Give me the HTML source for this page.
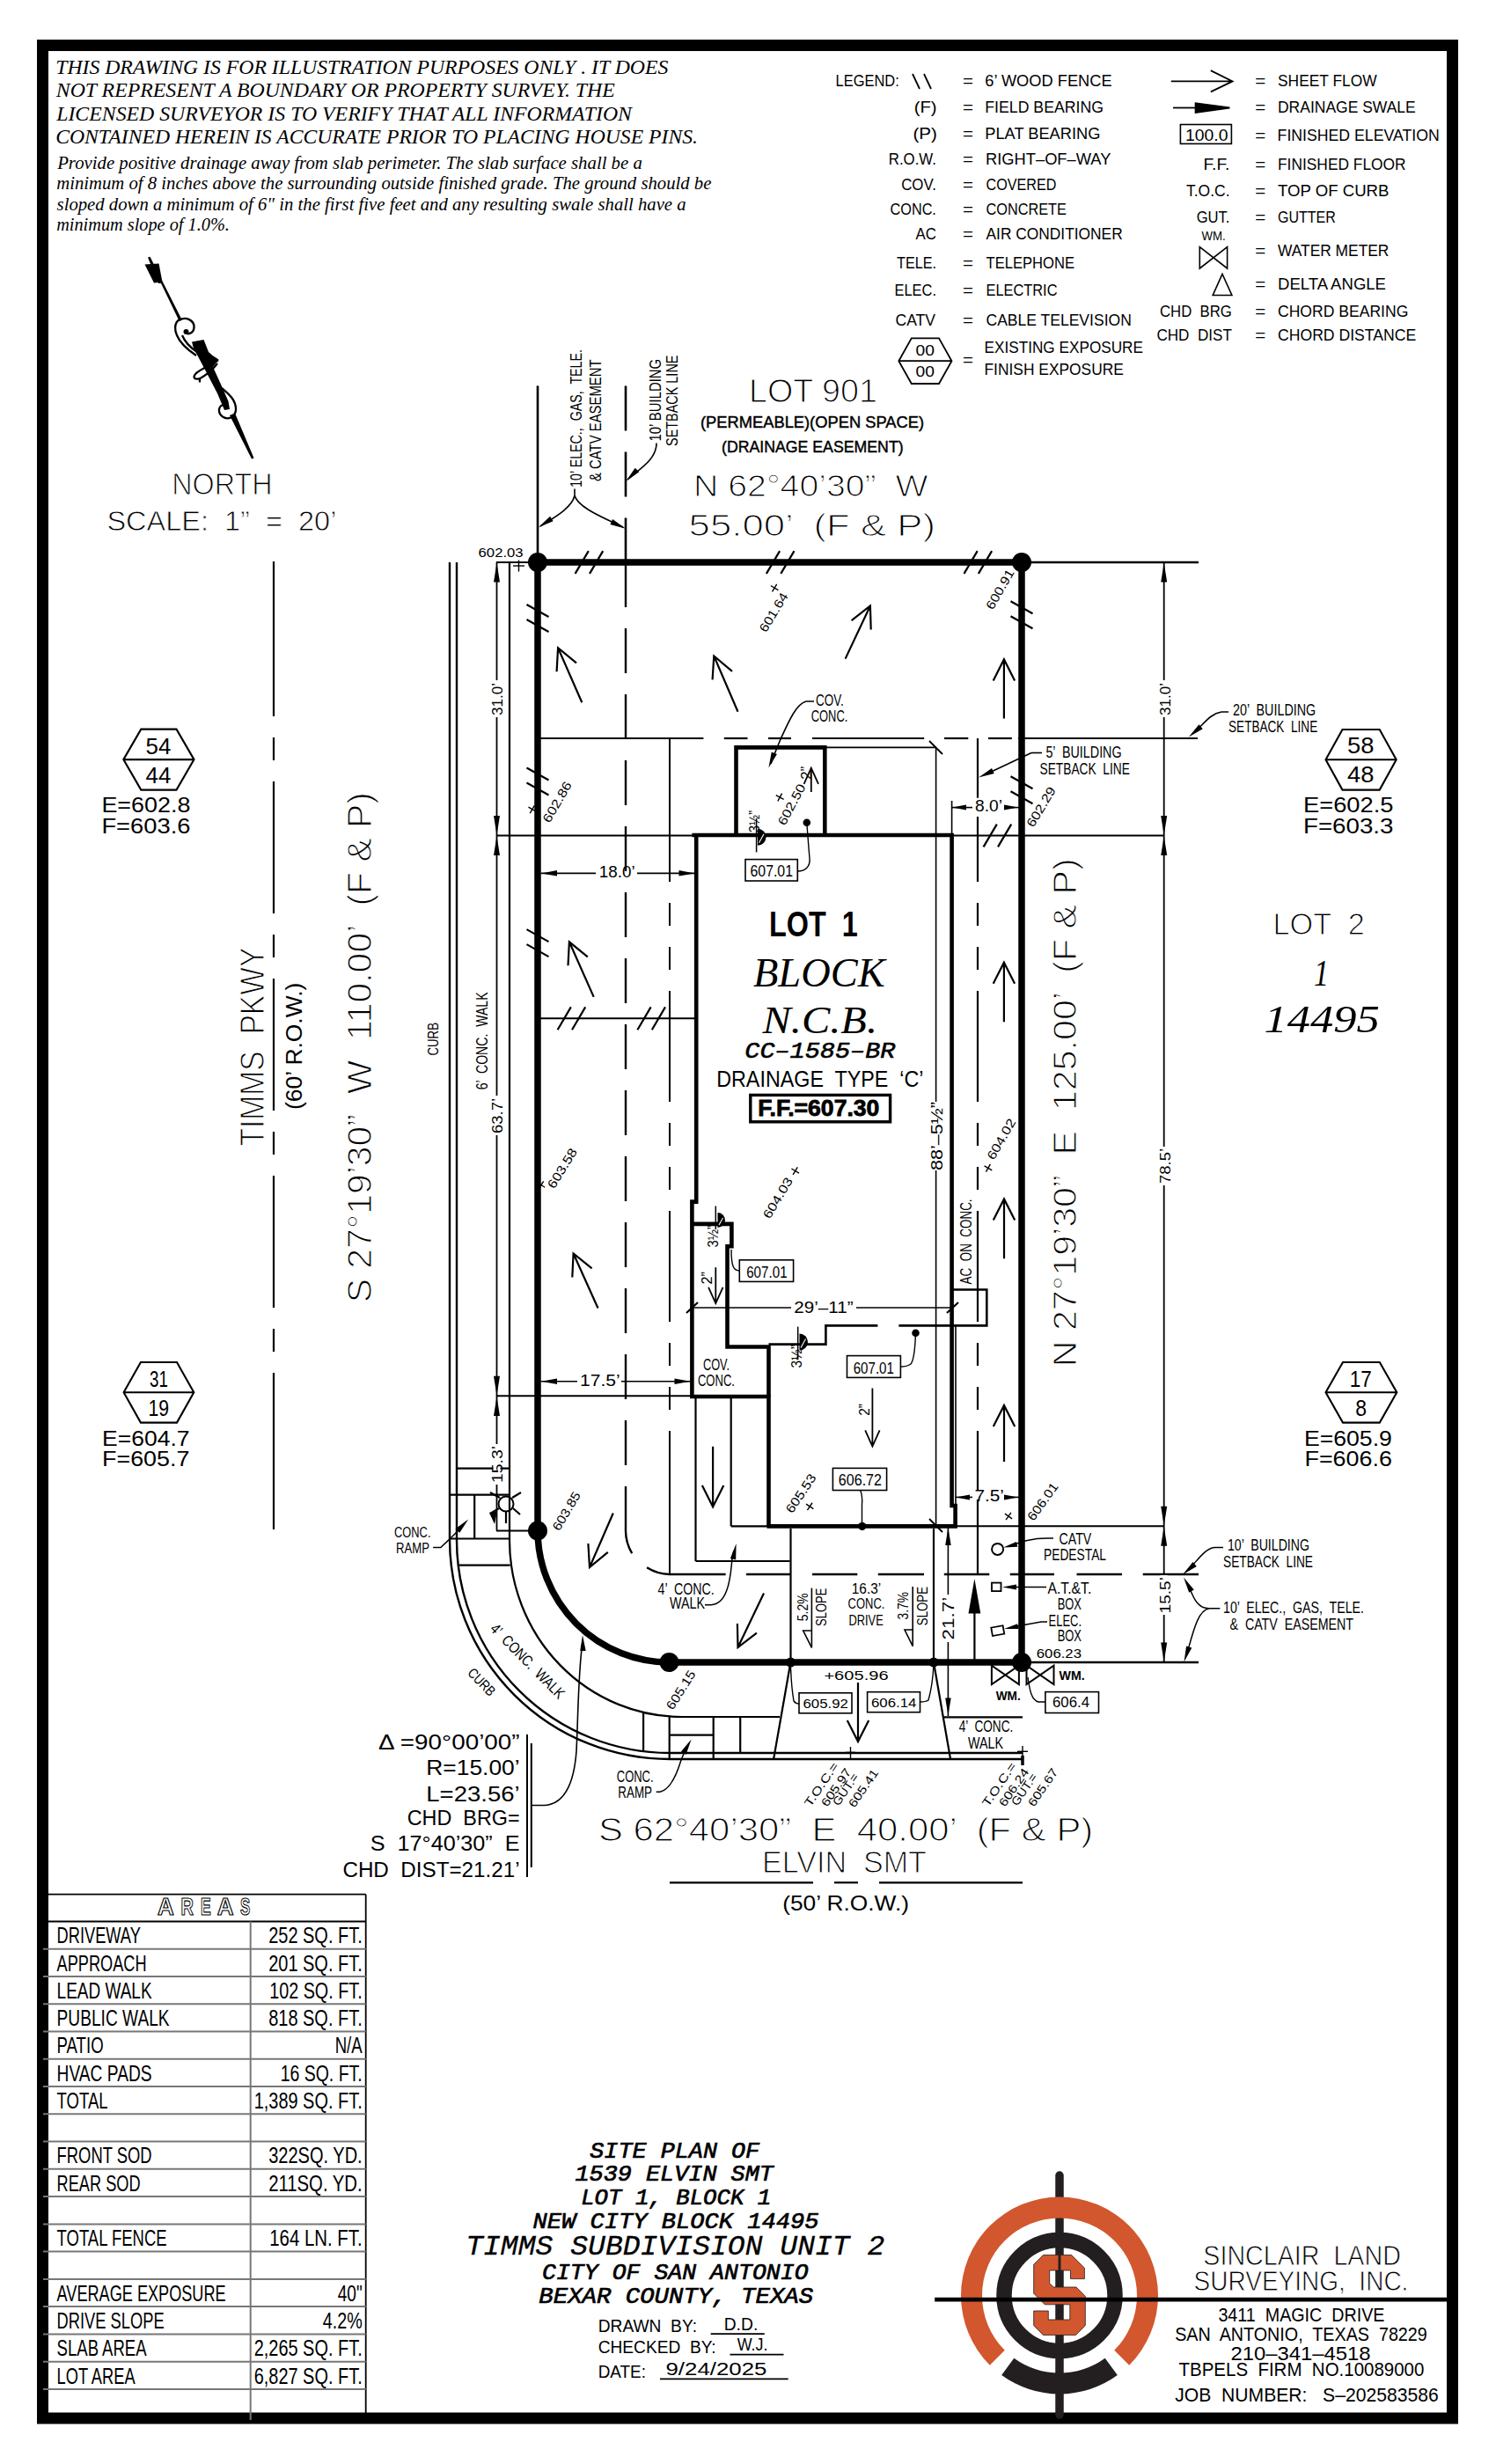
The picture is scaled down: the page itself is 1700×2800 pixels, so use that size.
<!DOCTYPE html>
<html><head><meta charset="utf-8"><title>Site Plan</title>
<style>
html,body{margin:0;padding:0;background:#fff;width:1700px;height:2800px;overflow:hidden}
svg{display:block}
text{font-family:"Liberation Sans", sans-serif;fill:#000;stroke:none;white-space:pre}
</style></head><body>
<svg width="1700" height="2800" viewBox="0 0 1700 2800" stroke="#000" stroke-linecap="butt">
<rect x="0" y="0" width="1700" height="2800" fill="#fff" stroke="none"/>
<g>
<rect x="48.5" y="51.5" width="1602" height="2696.5" fill="none" stroke-width="13"/>
<text x="63.2" y="83.8" font-size="23.82" textLength="696.1" lengthAdjust="spacingAndGlyphs" font-style="italic" style='font-family:"Liberation Serif", serif;'>THIS DRAWING IS FOR ILLUSTRATION PURPOSES ONLY . IT DOES</text>
<text x="63.8" y="110.3" font-size="23.82" textLength="635.0" lengthAdjust="spacingAndGlyphs" font-style="italic" style='font-family:"Liberation Serif", serif;'>NOT REPRESENT A BOUNDARY OR PROPERTY SURVEY. THE</text>
<text x="64.2" y="136.8" font-size="23.82" textLength="653.8" lengthAdjust="spacingAndGlyphs" font-style="italic" style='font-family:"Liberation Serif", serif;'>LICENSED SURVEYOR IS TO VERIFY THAT ALL INFORMATION</text>
<text x="63.2" y="163.3" font-size="23.82" textLength="729.8" lengthAdjust="spacingAndGlyphs" font-style="italic" style='font-family:"Liberation Serif", serif;'>CONTAINED HEREIN IS ACCURATE PRIOR TO PLACING HOUSE PINS.</text>
<text x="65.2" y="192.1" font-size="20.15" textLength="664.6" lengthAdjust="spacingAndGlyphs" font-style="italic" style='font-family:"Liberation Serif", serif;'>Provide positive drainage away from slab perimeter. The slab surface shall be a</text>
<text x="64.2" y="215.0" font-size="20.15" textLength="744.2" lengthAdjust="spacingAndGlyphs" font-style="italic" style='font-family:"Liberation Serif", serif;'>minimum of 8 inches above the surrounding outside finished grade. The ground should be</text>
<text x="64.6" y="238.6" font-size="20.15" textLength="715.0" lengthAdjust="spacingAndGlyphs" font-style="italic" style='font-family:"Liberation Serif", serif;'>sloped down a minimum of 6" in the first five feet and any resulting swale shall have a</text>
<text x="64.2" y="261.7" font-size="20.15" textLength="196.7" lengthAdjust="spacingAndGlyphs" font-style="italic" style='font-family:"Liberation Serif", serif;'>minimum slope of 1.0%.</text>
<text x="949.6" y="98.2" font-size="18.60" textLength="72.2" lengthAdjust="spacingAndGlyphs">LEGEND:</text>
<text x="1094.0" y="98.2" font-size="18.60" textLength="12.0" lengthAdjust="spacingAndGlyphs">=</text>
<text x="1119.3" y="98.2" font-size="18.60" textLength="144.3" lengthAdjust="spacingAndGlyphs">6’ WOOD FENCE</text>
<text x="1038.7" y="127.7" font-size="18.60" textLength="25.9" lengthAdjust="spacingAndGlyphs">(F)</text>
<text x="1094.0" y="127.7" font-size="18.60" textLength="12.0" lengthAdjust="spacingAndGlyphs">=</text>
<text x="1119.3" y="127.7" font-size="18.60" textLength="134.7" lengthAdjust="spacingAndGlyphs">FIELD BEARING</text>
<text x="1037.5" y="157.8" font-size="18.60" textLength="27.5" lengthAdjust="spacingAndGlyphs">(P)</text>
<text x="1094.0" y="157.8" font-size="18.60" textLength="12.0" lengthAdjust="spacingAndGlyphs">=</text>
<text x="1119.3" y="157.8" font-size="18.60" textLength="131.1" lengthAdjust="spacingAndGlyphs">PLAT BEARING</text>
<text x="1009.8" y="187.4" font-size="18.60" textLength="54.1" lengthAdjust="spacingAndGlyphs">R.O.W.</text>
<text x="1094.0" y="187.4" font-size="18.60" textLength="12.0" lengthAdjust="spacingAndGlyphs">=</text>
<text x="1120.0" y="187.4" font-size="18.60" textLength="142.4" lengthAdjust="spacingAndGlyphs">RIGHT–OF–WAY</text>
<text x="1024.2" y="215.6" font-size="18.60" textLength="39.7" lengthAdjust="spacingAndGlyphs">COV.</text>
<text x="1094.0" y="215.6" font-size="18.60" textLength="12.0" lengthAdjust="spacingAndGlyphs">=</text>
<text x="1120.5" y="215.6" font-size="18.60" textLength="79.8" lengthAdjust="spacingAndGlyphs">COVERED</text>
<text x="1011.5" y="243.7" font-size="18.60" textLength="52.4" lengthAdjust="spacingAndGlyphs">CONC.</text>
<text x="1094.0" y="243.7" font-size="18.60" textLength="12.0" lengthAdjust="spacingAndGlyphs">=</text>
<text x="1120.5" y="243.7" font-size="18.60" textLength="91.4" lengthAdjust="spacingAndGlyphs">CONCRETE</text>
<text x="1040.6" y="271.8" font-size="18.60" textLength="23.4" lengthAdjust="spacingAndGlyphs">AC</text>
<text x="1094.0" y="271.8" font-size="18.60" textLength="12.0" lengthAdjust="spacingAndGlyphs">=</text>
<text x="1120.5" y="271.8" font-size="18.60" textLength="155.2" lengthAdjust="spacingAndGlyphs">AIR CONDITIONER</text>
<text x="1019.0" y="304.5" font-size="18.60" textLength="45.0" lengthAdjust="spacingAndGlyphs">TELE.</text>
<text x="1094.0" y="304.5" font-size="18.60" textLength="12.0" lengthAdjust="spacingAndGlyphs">=</text>
<text x="1120.5" y="304.5" font-size="18.60" textLength="100.5" lengthAdjust="spacingAndGlyphs">TELEPHONE</text>
<text x="1016.5" y="335.8" font-size="18.60" textLength="47.5" lengthAdjust="spacingAndGlyphs">ELEC.</text>
<text x="1094.0" y="335.8" font-size="18.60" textLength="12.0" lengthAdjust="spacingAndGlyphs">=</text>
<text x="1120.5" y="335.8" font-size="18.60" textLength="81.0" lengthAdjust="spacingAndGlyphs">ELECTRIC</text>
<text x="1017.5" y="370.4" font-size="18.60" textLength="45.5" lengthAdjust="spacingAndGlyphs">CATV</text>
<text x="1094.0" y="370.4" font-size="18.60" textLength="12.0" lengthAdjust="spacingAndGlyphs">=</text>
<text x="1120.5" y="370.4" font-size="18.60" textLength="165.3" lengthAdjust="spacingAndGlyphs">CABLE TELEVISION</text>
<line x1="1037.0" y1="84.0" x2="1045.0" y2="101.0" stroke-width="1.8"/>
<line x1="1050.0" y1="84.0" x2="1058.0" y2="101.0" stroke-width="1.8"/>
<path d="M1021.3,410.2 L1035.8,384.4 L1067.0,384.4 L1081.5,410.2 L1067.0,436 L1035.8,436 Z M1021.3,410.2 L1081.5,410.2" fill="none" stroke-width="1.8"/>
<text x="1040.6" y="404.3" font-size="16.72" textLength="21.4" lengthAdjust="spacingAndGlyphs">00</text>
<text x="1040.6" y="428.4" font-size="16.72" textLength="21.4" lengthAdjust="spacingAndGlyphs">00</text>
<text x="1094.0" y="414.5" font-size="18.60" textLength="12.0" lengthAdjust="spacingAndGlyphs">=</text>
<text x="1118.5" y="400.7" font-size="18.60" textLength="180.5" lengthAdjust="spacingAndGlyphs">EXISTING EXPOSURE</text>
<text x="1118.5" y="426.0" font-size="18.60" textLength="158.4" lengthAdjust="spacingAndGlyphs">FINISH EXPOSURE</text>
<text x="1426.3" y="97.7" font-size="18.60" textLength="12.0" lengthAdjust="spacingAndGlyphs">=</text>
<text x="1452.0" y="97.7" font-size="18.60" textLength="112.7" lengthAdjust="spacingAndGlyphs">SHEET FLOW</text>
<text x="1426.3" y="127.7" font-size="18.60" textLength="12.0" lengthAdjust="spacingAndGlyphs">=</text>
<text x="1452.0" y="127.7" font-size="18.60" textLength="156.7" lengthAdjust="spacingAndGlyphs">DRAINAGE SWALE</text>
<text x="1426.3" y="159.5" font-size="18.60" textLength="12.0" lengthAdjust="spacingAndGlyphs">=</text>
<text x="1451.6" y="159.5" font-size="18.60" textLength="184.1" lengthAdjust="spacingAndGlyphs">FINISHED ELEVATION</text>
<text x="1426.3" y="192.7" font-size="18.60" textLength="12.0" lengthAdjust="spacingAndGlyphs">=</text>
<text x="1452.0" y="192.7" font-size="18.60" textLength="145.6" lengthAdjust="spacingAndGlyphs">FINISHED FLOOR</text>
<text x="1426.3" y="223.3" font-size="18.60" textLength="12.0" lengthAdjust="spacingAndGlyphs">=</text>
<text x="1452.0" y="223.3" font-size="18.60" textLength="126.4" lengthAdjust="spacingAndGlyphs">TOP OF CURB</text>
<text x="1426.3" y="252.5" font-size="18.60" textLength="12.0" lengthAdjust="spacingAndGlyphs">=</text>
<text x="1452.0" y="252.5" font-size="18.60" textLength="65.8" lengthAdjust="spacingAndGlyphs">GUTTER</text>
<text x="1426.3" y="290.5" font-size="18.60" textLength="12.0" lengthAdjust="spacingAndGlyphs">=</text>
<text x="1452.0" y="290.5" font-size="18.60" textLength="126.4" lengthAdjust="spacingAndGlyphs">WATER METER</text>
<text x="1426.3" y="328.8" font-size="18.60" textLength="12.0" lengthAdjust="spacingAndGlyphs">=</text>
<text x="1452.0" y="328.8" font-size="18.60" textLength="123.0" lengthAdjust="spacingAndGlyphs">DELTA ANGLE</text>
<text x="1426.3" y="359.6" font-size="18.60" textLength="12.0" lengthAdjust="spacingAndGlyphs">=</text>
<text x="1452.0" y="359.6" font-size="18.60" textLength="148.3" lengthAdjust="spacingAndGlyphs">CHORD BEARING</text>
<text x="1426.3" y="387.2" font-size="18.60" textLength="12.0" lengthAdjust="spacingAndGlyphs">=</text>
<text x="1452.0" y="387.2" font-size="18.60" textLength="157.2" lengthAdjust="spacingAndGlyphs">CHORD DISTANCE</text>
<path d="M1330.8,92.4 L1400.6,92.4 M1375.8,80.1 L1400.6,92.4 L1375.8,104.4" stroke-width="1.8" fill="none"/>
<line x1="1333.0" y1="122.5" x2="1358.0" y2="122.5" stroke-width="1.8"/>
<path d="M1357.7,116.2 L1397.5,121.6 L1397.5,123.4 L1357.7,129 Z" fill="#000" stroke="none"/>
<rect x="1341.4" y="141.5" width="58" height="21.9" fill="none" stroke-width="1.6"/>
<text x="1347.0" y="159.5" font-size="18.17" textLength="48.5" lengthAdjust="spacingAndGlyphs">100.0</text>
<text x="1367.4" y="192.7" font-size="18.60" textLength="30.1" lengthAdjust="spacingAndGlyphs">F.F.</text>
<text x="1348.0" y="223.3" font-size="18.60" textLength="49.5" lengthAdjust="spacingAndGlyphs">T.O.C.</text>
<text x="1359.7" y="252.5" font-size="18.60" textLength="37.8" lengthAdjust="spacingAndGlyphs">GUT.</text>
<text x="1365.4" y="273.4" font-size="14.53" textLength="27.2" lengthAdjust="spacingAndGlyphs">WM.</text>
<path d="M1363.3,280.6 L1363.3,305 L1394.6,280.6 L1394.6,305 Z" stroke-width="1.6" fill="none"/>
<path d="M1389,311.4 L1378.2,335.5 L1399.9,335.5 Z" stroke-width="1.6" fill="none"/>
<text x="1318.0" y="359.6" font-size="18.60" textLength="81.9" lengthAdjust="spacingAndGlyphs">CHD  BRG</text>
<text x="1314.4" y="387.2" font-size="18.60" textLength="85.5" lengthAdjust="spacingAndGlyphs">CHD  DIST</text>
<g stroke-linejoin="round">
<path d="M168,292.5 L170.5,291.8 L206,362 L203,363.5 L183,322 L180,322 Z" fill="#000" stroke="none"/>
<path d="M164.5,300.5 L172,300 L180.5,299.5 L184.5,320.5 L175,321.5 Z" fill="#000" stroke="none"/>
<path d="M204,363 C197,367 199,377 201,381 C205,391 214,398 223,404 M207,381 C209,386 215,394 224,400" stroke-width="2.3" fill="none"/>
<path d="M203.5,364 C211,359 221,364 220.5,372 C220,379 213,381 211,377" stroke-width="2.4" fill="none"/>
<circle cx="211.5" cy="377" r="3" fill="#000" stroke="none"/>
<path d="M218,388.5 L231.5,386 L237,400 L241.5,404 L248.5,408.5 L242,417 L252,439 L259.5,456 L261,465 L255,466 L247,447 L235,424 L225,405 L220,396 Z" fill="#000" stroke="none"/>
<path d="M248,409 C240,415 229,419 223,424 C219,428 220,431.5 225.5,430.5 C231,429 242,420 247,413" stroke-width="2.3" fill="none"/>
<line x1="227.0" y1="430.0" x2="227.0" y2="434.5" stroke-width="2.3"/>
<path d="M252,441 C262,449 268.5,456 268,466 C267,474.5 259,477.5 253,473.5 C247.5,469.5 247.5,462 253.5,460" stroke-width="2.3" fill="none"/>
<path d="M261,472 L267,469.5 L288.5,520.5 L286,521.5 Z" fill="#000" stroke="none"/>
</g>
<text x="195.2" y="562.4" font-size="35.76" textLength="114.4" lengthAdjust="spacingAndGlyphs" style='stroke:#fff;stroke-width:1.15;'>NORTH</text>
<text x="121.4" y="603.0" font-size="31.10" textLength="261.0" lengthAdjust="spacingAndGlyphs" style='stroke:#fff;stroke-width:0.80;'>SCALE:  1”  =  20’</text>
<line x1="611.0" y1="438.4" x2="611.0" y2="639.0" stroke-width="2.6"/>
<line x1="711.0" y1="438.4" x2="711.0" y2="639.0" stroke-width="2.6" stroke-dasharray="51 24"/>
<line x1="711.0" y1="639.0" x2="711.0" y2="1740.0" stroke-width="2.4" stroke-dasharray="51 24"/>
<path d="M711,1740 A50,50 0 0 0 718.2,1765.1" stroke-width="2.4" fill="none"/>
<path d="M735.1,1781.3 A50,50 0 0 0 761,1789 H824.6" stroke-width="2.4" fill="none"/>
<line x1="848.0" y1="1789.0" x2="898.8" y2="1789.0" stroke-width="2.4"/>
<line x1="923.0" y1="1789.0" x2="974.3" y2="1789.0" stroke-width="2.4"/>
<line x1="997.8" y1="1789.0" x2="1050.0" y2="1789.0" stroke-width="2.4"/>
<line x1="1072.8" y1="1789.0" x2="1124.3" y2="1789.0" stroke-width="2.4"/>
<line x1="1147.8" y1="1789.0" x2="1198.0" y2="1789.0" stroke-width="2.4"/>
<line x1="1223.5" y1="1789.0" x2="1275.0" y2="1789.0" stroke-width="2.4"/>
<line x1="1298.7" y1="1789.0" x2="1362.0" y2="1789.0" stroke-width="2.4"/>
<line x1="611.0" y1="839.0" x2="799.4" y2="839.0" stroke-width="2.2"/>
<line x1="822.8" y1="839.0" x2="849.5" y2="839.0" stroke-width="2.2"/>
<line x1="872.9" y1="839.0" x2="899.0" y2="839.0" stroke-width="2.2"/>
<line x1="923.0" y1="839.0" x2="1050.2" y2="839.0" stroke-width="2.2"/>
<line x1="1073.0" y1="839.0" x2="1100.3" y2="839.0" stroke-width="2.2"/>
<line x1="1123.0" y1="839.0" x2="1149.8" y2="839.0" stroke-width="2.2"/>
<line x1="1157.0" y1="839.0" x2="1361.0" y2="839.0" stroke-width="2.2"/>
<line x1="761.0" y1="839.0" x2="761.0" y2="1002.0" stroke-width="2.0"/>
<line x1="761.0" y1="1026.0" x2="761.0" y2="1052.0" stroke-width="2.0"/>
<line x1="761.0" y1="1076.0" x2="761.0" y2="1102.0" stroke-width="2.0"/>
<line x1="761.0" y1="1126.0" x2="761.0" y2="1252.0" stroke-width="2.0"/>
<line x1="761.0" y1="1276.0" x2="761.0" y2="1302.0" stroke-width="2.0"/>
<line x1="761.0" y1="1326.0" x2="761.0" y2="1352.0" stroke-width="2.0"/>
<line x1="761.0" y1="1376.0" x2="761.0" y2="1502.0" stroke-width="2.0"/>
<line x1="761.0" y1="1526.0" x2="761.0" y2="1552.0" stroke-width="2.0"/>
<line x1="761.0" y1="1576.0" x2="761.0" y2="1602.0" stroke-width="2.0"/>
<line x1="761.0" y1="1626.0" x2="761.0" y2="1789.0" stroke-width="2.0"/>
<line x1="1111.0" y1="839.0" x2="1111.0" y2="906.7" stroke-width="2.2"/>
<line x1="1111.0" y1="928.0" x2="1111.0" y2="1002.0" stroke-width="2.2"/>
<line x1="1111.0" y1="1026.0" x2="1111.0" y2="1052.0" stroke-width="2.2"/>
<line x1="1111.0" y1="1076.0" x2="1111.0" y2="1102.0" stroke-width="2.2"/>
<line x1="1111.0" y1="1126.0" x2="1111.0" y2="1252.0" stroke-width="2.2"/>
<line x1="1111.0" y1="1276.0" x2="1111.0" y2="1302.0" stroke-width="2.2"/>
<line x1="1111.0" y1="1326.0" x2="1111.0" y2="1352.0" stroke-width="2.2"/>
<line x1="1111.0" y1="1376.0" x2="1111.0" y2="1502.0" stroke-width="2.2"/>
<line x1="1111.0" y1="1526.0" x2="1111.0" y2="1552.0" stroke-width="2.2"/>
<line x1="1111.0" y1="1576.0" x2="1111.0" y2="1602.0" stroke-width="2.2"/>
<line x1="1111.0" y1="1626.0" x2="1111.0" y2="1693.0" stroke-width="2.2"/>
<line x1="1111.0" y1="1704.0" x2="1111.0" y2="1789.0" stroke-width="2.2"/>
<path d="M511,639 V1749 A250,250 0 0 0 761,1999 H1162" stroke-width="2.4" fill="none"/>
<path d="M519,639 V1750 A242,242 0 0 0 761,1992 H1162" stroke-width="2.4" fill="none"/>
<path d="M579,639 V1750 A196,201 0 0 0 775,1951 H886" stroke-width="2.2" fill="none"/>
<line x1="1072.0" y1="1951.4" x2="1162.0" y2="1951.4" stroke-width="2.2"/>
<line x1="564.0" y1="639.0" x2="611.0" y2="639.0" stroke-width="2.1"/>
<line x1="1161.0" y1="639.0" x2="1362.0" y2="639.0" stroke-width="2.6"/>
<line x1="1161.0" y1="1889.0" x2="1362.0" y2="1889.0" stroke-width="2.6"/>
<line x1="564.0" y1="949.5" x2="790.0" y2="949.5" stroke-width="2.1"/>
<line x1="1081.0" y1="949.5" x2="1323.0" y2="949.5" stroke-width="2.1"/>
<line x1="564.0" y1="1586.3" x2="785.0" y2="1586.3" stroke-width="2.1"/>
<line x1="1086.0" y1="1734.2" x2="1323.0" y2="1734.2" stroke-width="2.1"/>
<line x1="564.0" y1="1739.5" x2="611.0" y2="1739.5" stroke-width="2.1"/>
<line x1="611.0" y1="1157.3" x2="790.0" y2="1157.3" stroke-width="2.1"/>
<line x1="564.5" y1="639.0" x2="564.5" y2="1739.5" stroke-width="1.8"/>
<path d="M564.5,639.5 L568.0,661.5 L561.0,661.5Z" fill="#000" stroke="none"/>
<path d="M564.5,949.0 L561.0,927.0 L568.0,927.0Z" fill="#000" stroke="none"/>
<path d="M564.5,950.0 L568.0,972.0 L561.0,972.0Z" fill="#000" stroke="none"/>
<path d="M564.5,1585.8 L561.0,1563.8 L568.0,1563.8Z" fill="#000" stroke="none"/>
<path d="M564.5,1587.0 L568.0,1609.0 L561.0,1609.0Z" fill="#000" stroke="none"/>
<line x1="1322.7" y1="639.0" x2="1322.7" y2="1889.0" stroke-width="1.8"/>
<path d="M1322.7,639.5 L1326.2,661.5 L1319.2,661.5Z" fill="#000" stroke="none"/>
<path d="M1322.7,949.0 L1319.2,927.0 L1326.2,927.0Z" fill="#000" stroke="none"/>
<path d="M1322.7,950.0 L1326.2,972.0 L1319.2,972.0Z" fill="#000" stroke="none"/>
<path d="M1322.7,1733.7 L1319.2,1711.7 L1326.2,1711.7Z" fill="#000" stroke="none"/>
<path d="M1322.7,1734.7 L1326.2,1756.7 L1319.2,1756.7Z" fill="#000" stroke="none"/>
<path d="M1322.7,1888.5 L1319.2,1866.5 L1326.2,1866.5Z" fill="#000" stroke="none"/>
<path d="M611,639 H1161 V1889 H761 A150,150 0 0 1 611,1739 Z" stroke-width="7.5" fill="none"/>
<circle cx="611" cy="639" r="11" fill="#000" stroke="none"/>
<circle cx="1161" cy="639" r="11" fill="#000" stroke="none"/>
<circle cx="1161" cy="1889" r="11" fill="#000" stroke="none"/>
<circle cx="611" cy="1739.5" r="11" fill="#000" stroke="none"/>
<circle cx="760.5" cy="1889" r="11" fill="#000" stroke="none"/>
<circle cx="898.5" cy="1889" r="5.5" fill="#000" stroke="none"/>
<circle cx="1061" cy="1889" r="5.5" fill="#000" stroke="none"/>
<line x1="311.0" y1="638.0" x2="311.0" y2="814.0" stroke-width="2.2"/>
<line x1="311.0" y1="838.0" x2="311.0" y2="864.0" stroke-width="2.2"/>
<line x1="311.0" y1="888.0" x2="311.0" y2="1038.0" stroke-width="2.2"/>
<line x1="311.0" y1="1062.0" x2="311.0" y2="1088.0" stroke-width="2.2"/>
<line x1="311.0" y1="1112.0" x2="311.0" y2="1262.0" stroke-width="2.2"/>
<line x1="311.0" y1="1286.0" x2="311.0" y2="1312.0" stroke-width="2.2"/>
<line x1="311.0" y1="1336.0" x2="311.0" y2="1486.0" stroke-width="2.2"/>
<line x1="311.0" y1="1510.0" x2="311.0" y2="1536.0" stroke-width="2.2"/>
<line x1="311.0" y1="1560.0" x2="311.0" y2="1738.0" stroke-width="2.2"/>
<line x1="761.0" y1="2139.3" x2="924.0" y2="2139.3" stroke-width="2.2"/>
<line x1="948.0" y1="2139.3" x2="975.0" y2="2139.3" stroke-width="2.2"/>
<line x1="999.0" y1="2139.3" x2="1162.0" y2="2139.3" stroke-width="2.2"/>
<path d="M786.4,949 H1081.6 V1711 H1085.6 V1734.4 H871.5" stroke-width="4.6" fill="none" stroke-linejoin="miter"/>
<path d="M791.2,949 V1365.6 H786.4 V1587 H873.5 V1734.4" stroke-width="4.6" fill="none"/>
<path d="M873.5,1587 V1530.5 H826.5 V1416.2 H831.4 V1390.9 H786.4" stroke-width="4.6" fill="none"/>
<path d="M873.5,1527.6 H938.4 V1506.4 H997.4 M1021.4,1506.4 H1121.3 V1465.5 H1081.6" stroke-width="2.6" fill="none"/>
<path d="M836.5,949 V849.4 H937.3 V949" stroke-width="4.6" fill="none"/>
<line x1="937.3" y1="849.4" x2="1063.6" y2="849.4" stroke-width="1.6"/>
<line x1="1063.6" y1="849.4" x2="1063.6" y2="1733.6" stroke-width="1.6"/>
<line x1="1056.0" y1="842.0" x2="1071.0" y2="857.0" stroke-width="1.8"/>
<line x1="1056.0" y1="1726.0" x2="1071.0" y2="1741.0" stroke-width="1.8"/>
<line x1="786.4" y1="1486.0" x2="899.0" y2="1486.0" stroke-width="1.6"/>
<line x1="973.0" y1="1486.0" x2="1082.8" y2="1486.0" stroke-width="1.6"/>
<line x1="780.0" y1="1492.0" x2="793.0" y2="1480.0" stroke-width="2.2"/>
<line x1="1076.0" y1="1492.0" x2="1089.0" y2="1480.0" stroke-width="2.2"/>
<circle cx="916.8" cy="934.7" r="4.3" fill="#000" stroke="none"/>
<circle cx="1040.5" cy="1514.8" r="4.3" fill="#000" stroke="none"/>
<circle cx="979.5" cy="1734.4" r="4.3" fill="#000" stroke="none"/>
<circle cx="980" cy="1734.4" r="4.3" fill="#000" stroke="none"/>
<path d="M861,941.8 A9.5,9.5 0 0 1 861,960.8 Z" fill="#000" stroke="none"/>
<line x1="862.5" y1="957.8" x2="868.0" y2="947.8" stroke-width="1.1" stroke="#fff"/>
<path d="M815.5,1378.0 A8.5,8.5 0 0 1 815.5,1395.0 Z" fill="#000" stroke="none"/>
<line x1="817.0" y1="1392.0" x2="821.5" y2="1384.0" stroke-width="1.1" stroke="#fff"/>
<path d="M908.5,1515.5 A9.5,9.5 0 0 1 908.5,1534.5 Z" fill="#000" stroke="none"/>
<line x1="910.0" y1="1531.5" x2="915.5" y2="1521.5" stroke-width="1.1" stroke="#fff"/>
<line x1="790.5" y1="1587.0" x2="790.5" y2="1774.0" stroke-width="2.2"/>
<line x1="830.7" y1="1587.0" x2="830.7" y2="1734.3" stroke-width="2.2"/>
<line x1="830.7" y1="1734.3" x2="873.5" y2="1734.3" stroke-width="2.2"/>
<line x1="790.5" y1="1774.0" x2="897.6" y2="1774.0" stroke-width="2.2"/>
<line x1="898.5" y1="1737.0" x2="898.5" y2="1889.0" stroke-width="2.2"/>
<line x1="1061.0" y1="1737.0" x2="1061.0" y2="1889.0" stroke-width="2.2"/>
<line x1="898.4" y1="1889.0" x2="879.2" y2="1998.5" stroke-width="2.2"/>
<line x1="1061.0" y1="1889.0" x2="1080.0" y2="1998.5" stroke-width="2.2"/>
<line x1="731.1" y1="1945.5" x2="731.1" y2="1989.5" stroke-width="2.2"/>
<line x1="760.7" y1="1951.0" x2="760.7" y2="1998.5" stroke-width="2.2"/>
<line x1="810.7" y1="1951.0" x2="810.7" y2="1998.5" stroke-width="2.2"/>
<line x1="841.2" y1="1951.0" x2="841.2" y2="1991.4" stroke-width="2.2"/>
<line x1="760.7" y1="1971.7" x2="810.7" y2="1971.7" stroke-width="2.2"/>
<line x1="519.8" y1="1668.7" x2="578.4" y2="1668.7" stroke-width="2.2"/>
<line x1="511.5" y1="1698.7" x2="578.4" y2="1698.7" stroke-width="2.2"/>
<line x1="511.5" y1="1748.5" x2="578.4" y2="1748.5" stroke-width="2.2"/>
<line x1="521.6" y1="1778.6" x2="579.7" y2="1778.6" stroke-width="2.2"/>
<line x1="539.2" y1="1698.7" x2="539.2" y2="1748.5" stroke-width="2.2"/>
<line x1="1162.0" y1="1995.0" x2="1162.0" y2="2006.0" stroke-width="3.5"/>
<line x1="653.6" y1="651.9" x2="668.8" y2="626.1" stroke-width="2.2"/>
<line x1="670.0" y1="651.9" x2="685.2" y2="626.1" stroke-width="2.2"/>
<line x1="870.9" y1="651.9" x2="886.1" y2="626.1" stroke-width="2.2"/>
<line x1="887.3" y1="651.9" x2="902.5" y2="626.1" stroke-width="2.2"/>
<line x1="1095.5" y1="651.9" x2="1110.7" y2="626.1" stroke-width="2.2"/>
<line x1="1111.9" y1="651.9" x2="1127.1" y2="626.1" stroke-width="2.2"/>
<line x1="633.6" y1="1170.2" x2="648.8" y2="1144.4" stroke-width="2.2"/>
<line x1="650.0" y1="1170.2" x2="665.2" y2="1144.4" stroke-width="2.2"/>
<line x1="724.4" y1="1170.2" x2="739.6" y2="1144.4" stroke-width="2.2"/>
<line x1="740.8" y1="1170.2" x2="756.0" y2="1144.4" stroke-width="2.2"/>
<line x1="1117.6" y1="962.4" x2="1132.8" y2="936.6" stroke-width="2.2"/>
<line x1="1134.0" y1="962.4" x2="1149.2" y2="936.6" stroke-width="2.2"/>
<line x1="598.5" y1="687.0" x2="623.5" y2="701.0" stroke-width="2.2"/>
<line x1="598.5" y1="704.0" x2="623.5" y2="718.0" stroke-width="2.2"/>
<line x1="598.5" y1="872.5" x2="623.5" y2="886.5" stroke-width="2.2"/>
<line x1="598.5" y1="889.5" x2="623.5" y2="903.5" stroke-width="2.2"/>
<line x1="598.5" y1="1056.1" x2="623.5" y2="1070.1" stroke-width="2.2"/>
<line x1="598.5" y1="1073.1" x2="623.5" y2="1087.1" stroke-width="2.2"/>
<line x1="1148.5" y1="683.2" x2="1173.5" y2="697.2" stroke-width="2.2"/>
<line x1="1148.5" y1="700.2" x2="1173.5" y2="714.2" stroke-width="2.2"/>
<line x1="1148.5" y1="882.2" x2="1173.5" y2="896.2" stroke-width="2.2"/>
<line x1="1148.5" y1="899.2" x2="1173.5" y2="913.2" stroke-width="2.2"/>
<path d="M661.3,798.2 L634.1,736.2 M632.6,763.2 L634.1,736.2 L655.0,753.3" stroke-width="2.2" fill="none"/>
<path d="M838.5,808.7 L811.3,745.5 M809.6,772.4 L811.3,745.5 L832.0,762.8" stroke-width="2.2" fill="none"/>
<path d="M960.6,748.6 L988.9,688.5 M967.6,705.1 L988.9,688.5 L989.7,715.5" stroke-width="2.2" fill="none"/>
<path d="M1140.9,816.4 L1140.9,749.3 M1128.7,773.4 L1140.9,749.3 L1153.1,773.4" stroke-width="2.2" fill="none"/>
<path d="M674.7,1132.9 L646.9,1070.3 M645.5,1097.3 L646.9,1070.3 L667.8,1087.3" stroke-width="2.2" fill="none"/>
<path d="M1140.9,1161.3 L1140.9,1093.7 M1128.7,1117.8 L1140.9,1093.7 L1153.1,1117.8" stroke-width="2.2" fill="none"/>
<path d="M679.5,1486.5 L651.6,1424.5 M650.3,1451.5 L651.6,1424.5 L672.6,1441.4" stroke-width="2.2" fill="none"/>
<path d="M1141.0,1430.3 L1141.0,1362.4 M1128.8,1386.5 L1141.0,1362.4 L1153.2,1386.5" stroke-width="2.2" fill="none"/>
<path d="M1141.0,1661.0 L1141.0,1597.0 M1128.8,1621.1 L1141.0,1597.0 L1153.2,1621.1" stroke-width="2.2" fill="none"/>
<path d="M810.1,1643.8 L810.1,1712.2 M822.3,1688.1 L810.1,1712.2 L797.9,1688.1" stroke-width="2.2" fill="none"/>
<path d="M696.8,1719.5 L670.0,1781.0 M690.8,1763.8 L670.0,1781.0 L668.4,1754.0" stroke-width="2.2" fill="none"/>
<path d="M868.0,1810.4 L838.5,1872.0 M859.9,1855.6 L838.5,1872.0 L837.9,1845.0" stroke-width="2.2" fill="none"/>
<path d="M975.0,1912.0 L975.0,1979.0 M987.2,1954.9 L975.0,1979.0 L962.8,1954.9" stroke-width="2.2" fill="none"/>
<path d="M921.8,900.0 L921.8,872.6 M913.6,890.9 L921.8,872.6 L930.0,890.9" stroke-width="1.8" fill="none"/>
<path d="M813.3,1440.2 L813.3,1481.1 M821.5,1462.8 L813.3,1481.1 L805.1,1462.8" stroke-width="1.8" fill="none"/>
<path d="M991.4,1577.6 L991.4,1643.6 M999.6,1625.3 L991.4,1643.6 L983.2,1625.3" stroke-width="1.8" fill="none"/>
<line x1="1107.4" y1="1886.0" x2="1107.4" y2="1820.0" stroke-width="2.2"/>
<path d="M1107.4,1794 L1100.5,1833.5 L1114.3,1833.5 Z" fill="#000" stroke="none"/>
<text x="851.0" y="457.0" font-size="36.34" textLength="146.0" lengthAdjust="spacingAndGlyphs" style='stroke:#fff;stroke-width:1.15;'>LOT 901</text>
<text x="796.0" y="486.0" font-size="18.90" textLength="254.0" lengthAdjust="spacingAndGlyphs" style='stroke:#000;stroke-width:0.45;'>(PERMEABLE)(OPEN SPACE)</text>
<text x="820.0" y="513.8" font-size="18.90" textLength="206.6" lengthAdjust="spacingAndGlyphs" style='stroke:#000;stroke-width:0.45;'>(DRAINAGE EASEMENT)</text>
<text x="788.0" y="564.0" font-size="34.88" textLength="266.5" lengthAdjust="spacingAndGlyphs" style='stroke:#fff;stroke-width:1.15;'>N 62°40’30”  W</text>
<text x="782.6" y="609.4" font-size="35.61" textLength="280.4" lengthAdjust="spacingAndGlyphs" style='stroke:#fff;stroke-width:1.15;'>55.00’  (F &amp; P)</text>
<text transform="translate(661.0 553.8) rotate(-90)" x="0" y="0" font-size="18.17" textLength="156.8" lengthAdjust="spacingAndGlyphs">10’ ELEC.,  GAS,  TELE.</text>
<text transform="translate(682.5 547.0) rotate(-90)" x="0" y="0" font-size="18.17" textLength="138.5" lengthAdjust="spacingAndGlyphs">&amp; CATV EASEMENT</text>
<text transform="translate(751.0 501.6) rotate(-90)" x="0" y="0" font-size="18.17" textLength="93.8" lengthAdjust="spacingAndGlyphs">10’ BUILDING</text>
<text transform="translate(770.0 506.9) rotate(-90)" x="0" y="0" font-size="18.17" textLength="103.3" lengthAdjust="spacingAndGlyphs">SETBACK LINE</text>
<path d="M746,503.4 C746,522 728,532 713,545" stroke-width="1.6" fill="none"/>
<path d="M711.4,546.8 L721.7,531.7 L726.3,536.3Z" fill="#000" stroke="none"/>
<path d="M653,555.5 V563 C650,577 630,588 614,598" stroke-width="1.6" fill="none"/>
<path d="M611.8,599.3 L625.1,586.7 L628.6,592.2Z" fill="#000" stroke="none"/>
<path d="M653,563 C656,577 690,590 708,599" stroke-width="1.6" fill="none"/>
<path d="M711.0,600.7 L693.4,595.9 L696.2,590.0Z" fill="#000" stroke="none"/>
<text x="543.6" y="632.8" font-size="15.26" textLength="51.0" lengthAdjust="spacingAndGlyphs">602.03</text>
<line x1="583.0" y1="643.0" x2="596.0" y2="643.0" stroke-width="1.4"/>
<line x1="589.5" y1="636.5" x2="589.5" y2="649.5" stroke-width="1.4"/>
<text transform="translate(300.2 1302.5) rotate(-90)" x="0" y="0" font-size="38.81" textLength="225.9" lengthAdjust="spacingAndGlyphs" style='stroke:#fff;stroke-width:1.15;'>TIMMS  PKWY</text>
<text transform="translate(343.0 1261.0) rotate(-90)" x="0" y="0" font-size="25.29" textLength="144.3" lengthAdjust="spacingAndGlyphs">(60’ R.O.W.)</text>
<text transform="translate(421.9 1480.3) rotate(-90)" x="0" y="0" font-size="39.10" textLength="580.3" lengthAdjust="spacingAndGlyphs" style='stroke:#fff;stroke-width:1.15;'>S 27°19’30”  W  110.00’  (F &amp; P)</text>
<text transform="translate(498.0 1199.6) rotate(-90)" x="0" y="0" font-size="16.72" textLength="37.6" lengthAdjust="spacingAndGlyphs">CURB</text>
<text transform="translate(553.7 1238.3) rotate(-90)" x="0" y="0" font-size="17.73" textLength="110.9" lengthAdjust="spacingAndGlyphs">6’  CONC.  WALK</text>
<rect x="560.5" y="773" width="8" height="42" fill="#fff" stroke="none"/>
<text transform="translate(571.0 813.0) rotate(-90)" x="0" y="0" font-size="16.28" textLength="37.0" lengthAdjust="spacingAndGlyphs">31.0’</text>
<rect x="560.5" y="1245" width="8" height="45" fill="#fff" stroke="none"/>
<text transform="translate(570.5 1288.0) rotate(-90)" x="0" y="0" font-size="16.28" textLength="40.0" lengthAdjust="spacingAndGlyphs">63.7’</text>
<rect x="560.5" y="1641" width="8" height="46" fill="#fff" stroke="none"/>
<text transform="translate(571.0 1685.0) rotate(-90)" x="0" y="0" font-size="16.28" textLength="42.0" lengthAdjust="spacingAndGlyphs">15.3’</text>
<path d="M140.3,863.1 L160.3,828.6 L200.5,828.6 L220.5,863.1 L200.5,897.6 L160.3,897.6 Z M140.3,863.1 L220.5,863.1" fill="none" stroke-width="2.1"/>
<text x="165.6" y="856.7" font-size="25.44" textLength="28.8" lengthAdjust="spacingAndGlyphs">54</text>
<text x="165.6" y="889.5" font-size="25.44" textLength="28.8" lengthAdjust="spacingAndGlyphs">44</text>
<text x="115.4" y="922.8" font-size="24.71" textLength="101.1" lengthAdjust="spacingAndGlyphs">E=602.8</text>
<text x="115.4" y="946.9" font-size="24.71" textLength="101.1" lengthAdjust="spacingAndGlyphs">F=603.6</text>
<path d="M140.6,1582.3 L159.9,1548 L201.0,1548 L220.3,1582.3 L201.0,1616.6 L159.9,1616.6 Z M140.6,1582.3 L220.3,1582.3" fill="none" stroke-width="2.1"/>
<text x="170.0" y="1576.0" font-size="25.44" textLength="20.9" lengthAdjust="spacingAndGlyphs">31</text>
<text x="168.4" y="1608.6" font-size="25.44" textLength="23.6" lengthAdjust="spacingAndGlyphs">19</text>
<text x="116.0" y="1643.4" font-size="24.71" textLength="99.5" lengthAdjust="spacingAndGlyphs">E=604.7</text>
<text x="116.0" y="1666.4" font-size="24.71" textLength="99.5" lengthAdjust="spacingAndGlyphs">F=605.7</text>
<path d="M1506.5,863.3 L1525.5,829 L1567.7,829 L1586.7,863.3 L1567.7,897.6 L1525.5,897.6 Z M1506.5,863.3 L1586.7,863.3" fill="none" stroke-width="2.1"/>
<text x="1531.0" y="856.3" font-size="25.44" textLength="30.4" lengthAdjust="spacingAndGlyphs">58</text>
<text x="1531.0" y="889.2" font-size="25.44" textLength="30.4" lengthAdjust="spacingAndGlyphs">48</text>
<text x="1481.0" y="922.5" font-size="24.71" textLength="102.5" lengthAdjust="spacingAndGlyphs">E=602.5</text>
<text x="1481.0" y="946.5" font-size="24.71" textLength="102.5" lengthAdjust="spacingAndGlyphs">F=603.3</text>
<path d="M1506.5,1582.3 L1526.0,1548 L1567.8,1548 L1587.3,1582.3 L1567.8,1616.6 L1526.0,1616.6 Z M1506.5,1582.3 L1587.3,1582.3" fill="none" stroke-width="2.1"/>
<text x="1533.8" y="1576.0" font-size="25.44" textLength="25.1" lengthAdjust="spacingAndGlyphs">17</text>
<text x="1540.2" y="1608.6" font-size="25.44" textLength="12.8" lengthAdjust="spacingAndGlyphs">8</text>
<text x="1481.9" y="1643.4" font-size="24.71" textLength="100.0" lengthAdjust="spacingAndGlyphs">E=605.9</text>
<text x="1482.5" y="1666.4" font-size="24.71" textLength="99.4" lengthAdjust="spacingAndGlyphs">F=606.6</text>
<text x="1446.5" y="1061.6" font-size="35.76" textLength="104.3" lengthAdjust="spacingAndGlyphs" fill="#444" style='stroke:#fff;stroke-width:1.15;'>LOT  2</text>
<text x="1493.0" y="1119.8" font-size="42.75" textLength="17.0" lengthAdjust="spacingAndGlyphs" font-style="italic" style='font-family:"Liberation Serif", serif;'>1</text>
<text x="1436.5" y="1172.9" font-size="45.04" textLength="131.4" lengthAdjust="spacingAndGlyphs" font-style="italic" style='font-family:"Liberation Serif", serif;'>14495</text>
<text x="874.0" y="1063.5" font-size="40.99" textLength="100.7" lengthAdjust="spacingAndGlyphs" font-weight="bold">LOT  1</text>
<text x="856.0" y="1120.9" font-size="45.80" textLength="149.7" lengthAdjust="spacingAndGlyphs" font-style="italic" style='font-family:"Liberation Serif", serif;'>BLOCK</text>
<text x="866.6" y="1173.7" font-size="44.73" textLength="130.4" lengthAdjust="spacingAndGlyphs" font-style="italic" style='font-family:"Liberation Serif", serif;'>N.C.B.</text>
<text x="846.3" y="1202.1" font-size="25.80" textLength="171.1" lengthAdjust="spacingAndGlyphs" font-style="italic" style='font-family:"Liberation Mono", monospace;stroke:#000;stroke-width:0.6;'>CC–1585–BR</text>
<text x="814.2" y="1234.6" font-size="25.44" textLength="235.3" lengthAdjust="spacingAndGlyphs">DRAINAGE  TYPE  ‘C’</text>
<rect x="852.8" y="1244.4" width="158.8" height="30.4" fill="none" stroke-width="3.4"/>
<text x="861.3" y="1268.4" font-size="26.16" textLength="138.0" lengthAdjust="spacingAndGlyphs" font-weight="bold" style='stroke:#000;stroke-width:0.8;'>F.F.=607.30</text>
<text transform="translate(1223.0 1553.2) rotate(-90)" x="0" y="0" font-size="37.79" textLength="577.9" lengthAdjust="spacingAndGlyphs" style='stroke:#fff;stroke-width:1.15;'>N 27°19’30”  E  125.00’  (F &amp; P)</text>
<rect x="1318.7" y="773" width="8" height="42" fill="#fff" stroke="none"/>
<text transform="translate(1330.0 813.0) rotate(-90)" x="0" y="0" font-size="16.28" textLength="37.0" lengthAdjust="spacingAndGlyphs">31.0’</text>
<rect x="1318.7" y="1303" width="8" height="44" fill="#fff" stroke="none"/>
<text transform="translate(1330.0 1345.0) rotate(-90)" x="0" y="0" font-size="16.28" textLength="40.0" lengthAdjust="spacingAndGlyphs">78.5’</text>
<rect x="1318.7" y="1790" width="8" height="45" fill="#fff" stroke="none"/>
<text transform="translate(1330.0 1833.5) rotate(-90)" x="0" y="0" font-size="16.28" textLength="41.5" lengthAdjust="spacingAndGlyphs">15.5’</text>
<text x="1401.0" y="813.3" font-size="17.44" textLength="94.2" lengthAdjust="spacingAndGlyphs">20’  BUILDING</text>
<text x="1396.0" y="832.2" font-size="17.44" textLength="101.2" lengthAdjust="spacingAndGlyphs">SETBACK  LINE</text>
<path d="M1396,809 H1388 C1375,811 1368,823 1355,834" stroke-width="1.6" fill="none"/>
<path d="M1350.8,837.4 L1362.5,823.3 L1366.7,828.3Z" fill="#000" stroke="none"/>
<text x="1188.4" y="861.0" font-size="17.44" textLength="86.2" lengthAdjust="spacingAndGlyphs">5’  BUILDING</text>
<text x="1181.5" y="880.3" font-size="17.44" textLength="102.3" lengthAdjust="spacingAndGlyphs">SETBACK  LINE</text>
<line x1="1184.0" y1="855.5" x2="1172.0" y2="855.5" stroke-width="1.6"/>
<line x1="1172.0" y1="855.5" x2="1120.0" y2="880.0" stroke-width="1.6"/>
<path d="M1112.0,883.5 L1127.0,873.0 L1129.7,878.9Z" fill="#000" stroke="none"/>
<line x1="1081.6" y1="917.6" x2="1105.0" y2="917.6" stroke-width="1.6"/>
<line x1="1142.0" y1="917.6" x2="1160.0" y2="917.6" stroke-width="1.6"/>
<path d="M1082.0,917.6 L1098.0,914.6 L1098.0,920.6Z" fill="#000" stroke="none"/>
<path d="M1157.0,917.6 L1141.0,920.6 L1141.0,914.6Z" fill="#000" stroke="none"/>
<line x1="1081.6" y1="910.0" x2="1081.6" y2="949.0" stroke-width="1.6"/>
<text x="1108.0" y="922.0" font-size="18.17" textLength="31.0" lengthAdjust="spacingAndGlyphs">8.0’</text>
<line x1="614.7" y1="992.4" x2="677.0" y2="992.4" stroke-width="1.6"/>
<line x1="724.0" y1="992.4" x2="790.0" y2="992.4" stroke-width="1.6"/>
<path d="M615.0,992.4 L633.0,989.1 L633.0,995.6Z" fill="#000" stroke="none"/>
<path d="M789.5,992.4 L771.5,995.6 L771.5,989.1Z" fill="#000" stroke="none"/>
<text x="680.8" y="997.0" font-size="18.17" textLength="40.8" lengthAdjust="spacingAndGlyphs">18.0’</text>
<line x1="614.7" y1="1569.8" x2="656.0" y2="1569.8" stroke-width="1.6"/>
<line x1="706.0" y1="1569.8" x2="785.0" y2="1569.8" stroke-width="1.6"/>
<path d="M615.0,1569.8 L633.0,1566.5 L633.0,1573.0Z" fill="#000" stroke="none"/>
<path d="M784.5,1569.8 L766.5,1573.0 L766.5,1566.5Z" fill="#000" stroke="none"/>
<text x="659.0" y="1575.0" font-size="18.17" textLength="45.7" lengthAdjust="spacingAndGlyphs">17.5’</text>
<line x1="1085.6" y1="1701.4" x2="1105.0" y2="1701.4" stroke-width="1.6"/>
<line x1="1142.0" y1="1701.4" x2="1160.0" y2="1701.4" stroke-width="1.6"/>
<path d="M1086.0,1701.4 L1102.0,1698.4 L1102.0,1704.4Z" fill="#000" stroke="none"/>
<path d="M1157.0,1701.4 L1141.0,1704.4 L1141.0,1698.4Z" fill="#000" stroke="none"/>
<text x="1107.4" y="1706.0" font-size="18.17" textLength="33.6" lengthAdjust="spacingAndGlyphs">7.5’</text>
<text x="902.3" y="1492.0" font-size="18.17" textLength="67.4" lengthAdjust="spacingAndGlyphs">29’–11”</text>
<rect x="1058" y="1252" width="12" height="78" fill="#fff" stroke="none"/>
<text transform="translate(1071.0 1330.0) rotate(-90)" x="0" y="0" font-size="18.17" textLength="78.0" lengthAdjust="spacingAndGlyphs">88’–5½”</text>
<text transform="translate(1104.0 1459.4) rotate(-90)" x="0" y="0" font-size="17.44" textLength="97.0" lengthAdjust="spacingAndGlyphs">AC  ON  CONC.</text>
<text x="926.9" y="802.0" font-size="17.73" textLength="31.8" lengthAdjust="spacingAndGlyphs">COV.</text>
<text x="921.8" y="819.5" font-size="17.73" textLength="41.5" lengthAdjust="spacingAndGlyphs">CONC.</text>
<path d="M925,797 H916 C905,800 897,818 887,840 C882,852 878,862 876,868" stroke-width="1.6" fill="none"/>
<path d="M873.4,872.6 L876.8,854.6 L882.9,857.0Z" fill="#000" stroke="none"/>
<text x="798.9" y="1557.4" font-size="17.44" textLength="30.1" lengthAdjust="spacingAndGlyphs">COV.</text>
<text x="792.9" y="1575.0" font-size="17.44" textLength="42.1" lengthAdjust="spacingAndGlyphs">CONC.</text>
<rect x="847" y="976.6" width="59.299999999999955" height="24.399999999999977" fill="none" stroke-width="1.6"/>
<text x="852.5" y="995.5" font-size="18.17" textLength="48.5" lengthAdjust="spacingAndGlyphs">607.01</text>
<rect x="840.3" y="1431.8" width="61.30000000000007" height="24.600000000000136" fill="none" stroke-width="1.6"/>
<text x="848.2" y="1451.5" font-size="18.17" textLength="46.4" lengthAdjust="spacingAndGlyphs">607.01</text>
<rect x="962.5" y="1540.6" width="60.89999999999998" height="24.800000000000182" fill="none" stroke-width="1.6"/>
<text x="969.7" y="1560.5" font-size="18.17" textLength="46.2" lengthAdjust="spacingAndGlyphs">607.01</text>
<rect x="946.4" y="1668.4" width="61.200000000000045" height="25.09999999999991" fill="none" stroke-width="1.6"/>
<text x="952.8" y="1687.6" font-size="18.17" textLength="49.2" lengthAdjust="spacingAndGlyphs">606.72</text>
<rect x="908" y="1923.8" width="60" height="23.0" fill="none" stroke-width="1.6"/>
<text x="912.5" y="1940.5" font-size="15.26" textLength="51.5" lengthAdjust="spacingAndGlyphs">605.92</text>
<rect x="985.6" y="1922.7" width="59.89999999999998" height="23.0" fill="none" stroke-width="1.6"/>
<text x="990.0" y="1939.5" font-size="15.26" textLength="51.5" lengthAdjust="spacingAndGlyphs">606.14</text>
<rect x="1187.9" y="1922.6" width="60.59999999999991" height="23.90000000000009" fill="none" stroke-width="1.6"/>
<text x="1196.0" y="1940.0" font-size="15.70" textLength="42.0" lengthAdjust="spacingAndGlyphs">606.4</text>
<path d="M916.8,934.7 C918,950 919,965 920,975 C921,985 915,990 906.3,990" stroke-width="1.4" fill="none"/>
<path d="M840.3,1444 C834,1444 831,1440 831,1420" stroke-width="1.4" fill="none"/>
<path d="M1040.5,1514.8 C1040,1530 1039,1545 1035,1550 C1031,1553 1028,1553 1023.4,1553" stroke-width="1.4" fill="none"/>
<path d="M977.8,1693.5 C980,1700 980,1705 979.5,1710 V1734" stroke-width="1.4" fill="none"/>
<path d="M898.4,1892 C899,1905 899,1915 902,1933 C904,1936 906,1936 908,1936" stroke-width="1.4" fill="none"/>
<path d="M1061,1892 C1060,1910 1057,1925 1055,1932 C1052,1934 1048,1934 1045.5,1934" stroke-width="1.4" fill="none"/>
<path d="M1168,1906 C1170,1920 1172,1932 1180,1934 H1187.9" stroke-width="1.4" fill="none"/>
<text x="679.9" y="2091.9" font-size="37.79" textLength="562.4" lengthAdjust="spacingAndGlyphs" style='stroke:#fff;stroke-width:1.15;'>S 62°40’30”  E  40.00’  (F &amp; P)</text>
<text x="866.0" y="2128.4" font-size="34.88" textLength="186.9" lengthAdjust="spacingAndGlyphs" style='stroke:#fff;stroke-width:1.15;'>ELVIN  SMT</text>
<text x="889.2" y="2170.6" font-size="24.71" textLength="143.8" lengthAdjust="spacingAndGlyphs">(50’ R.O.W.)</text>
<text x="430.0" y="1987.5" font-size="23.98" textLength="160.6" lengthAdjust="spacingAndGlyphs">Δ =90°00’00”</text>
<text x="484.3" y="2017.3" font-size="23.98" textLength="106.3" lengthAdjust="spacingAndGlyphs">R=15.00’</text>
<text x="484.3" y="2047.0" font-size="23.98" textLength="106.3" lengthAdjust="spacingAndGlyphs">L=23.56’</text>
<text x="462.7" y="2073.5" font-size="23.98" textLength="127.9" lengthAdjust="spacingAndGlyphs">CHD  BRG=</text>
<text x="420.7" y="2103.3" font-size="23.98" textLength="169.9" lengthAdjust="spacingAndGlyphs">S  17°40’30”  E</text>
<text x="389.4" y="2133.1" font-size="23.98" textLength="201.2" lengthAdjust="spacingAndGlyphs">CHD  DIST=21.21’</text>
<line x1="599.0" y1="1971.0" x2="599.0" y2="2133.0" stroke-width="2"/>
<line x1="603.8" y1="1981.0" x2="603.8" y2="2122.0" stroke-width="2"/>
<path d="M604,2051.5 H619 C640,2050 652,2030 655,1990 C657,1950 657,1900 662,1866" stroke-width="1.6" fill="none"/>
<path d="M662.0,1858.0 L665.7,1875.9 L659.2,1876.1Z" fill="#000" stroke="none"/>
<text transform="translate(921.0 2054.0) rotate(-55.6)" x="0" y="0" font-size="13.37" textLength="57.4" lengthAdjust="spacingAndGlyphs">T.O.C.=</text>
<text transform="translate(940.0 2054.0) rotate(-55.6)" x="0" y="0" font-size="13.37" textLength="49.2" lengthAdjust="spacingAndGlyphs">605.97</text>
<text transform="translate(953.0 2053.0) rotate(-55.6)" x="0" y="0" font-size="13.37" textLength="41.0" lengthAdjust="spacingAndGlyphs">GUT.=</text>
<text transform="translate(971.0 2055.0) rotate(-55.6)" x="0" y="0" font-size="13.37" textLength="49.2" lengthAdjust="spacingAndGlyphs">605.41</text>
<text transform="translate(1123.0 2054.0) rotate(-55.6)" x="0" y="0" font-size="13.37" textLength="57.4" lengthAdjust="spacingAndGlyphs">T.O.C.=</text>
<text transform="translate(1142.0 2054.0) rotate(-55.6)" x="0" y="0" font-size="13.37" textLength="49.2" lengthAdjust="spacingAndGlyphs">606.24</text>
<text transform="translate(1156.0 2053.0) rotate(-55.6)" x="0" y="0" font-size="13.37" textLength="41.0" lengthAdjust="spacingAndGlyphs">GUT.=</text>
<text transform="translate(1175.0 2054.0) rotate(-55.6)" x="0" y="0" font-size="13.37" textLength="49.2" lengthAdjust="spacingAndGlyphs">605.67</text>
<line x1="961.0" y1="1991.4" x2="972.0" y2="1991.4" stroke-width="1.4"/>
<line x1="966.5" y1="1985.0" x2="966.5" y2="1998.0" stroke-width="1.4"/>
<line x1="1156.0" y1="1990.3" x2="1168.0" y2="1990.3" stroke-width="1.4"/>
<line x1="1162.0" y1="1984.0" x2="1162.0" y2="1996.0" stroke-width="1.4"/>
<text x="700.8" y="2024.5" font-size="17.44" textLength="41.8" lengthAdjust="spacingAndGlyphs">CONC.</text>
<text x="702.3" y="2042.5" font-size="17.44" textLength="38.7" lengthAdjust="spacingAndGlyphs">RAMP</text>
<path d="M745.7,2036.3 H750 C760,2034 768,2020 774,2000 L779,1988" stroke-width="1.5" fill="none"/>
<path d="M785.6,1976.4 L779.6,1993.7 L773.9,1990.5Z" fill="#000" stroke="none"/>
<text x="448.0" y="1746.5" font-size="16.57" textLength="41.5" lengthAdjust="spacingAndGlyphs">CONC.</text>
<text x="450.0" y="1764.5" font-size="16.57" textLength="38.1" lengthAdjust="spacingAndGlyphs">RAMP</text>
<path d="M492.1,1758.5 H500.8 L512.2,1747.8 L525,1735" stroke-width="1.5" fill="none"/>
<path d="M532.2,1726.4 L522.3,1741.8 L517.5,1737.3Z" fill="#000" stroke="none"/>
<circle cx="575" cy="1709" r="8.5" fill="none" stroke-width="2"/>
<path d="M568,1702 L557,1696 M582,1702 L592,1696 M583,1714 L591,1721 M575,1718 V1731 M567,1714 L557,1720" stroke-width="2.2" fill="none"/>
<path d="M556,1719 L565,1717 L562,1732 Z" fill="#000" stroke="none"/>
<text x="747.6" y="1811.5" font-size="17.44" textLength="64.2" lengthAdjust="spacingAndGlyphs">4’  CONC.</text>
<text x="761.0" y="1828.0" font-size="17.44" textLength="40.0" lengthAdjust="spacingAndGlyphs">WALK</text>
<path d="M801,1823.8 H808 C825,1823 830,1800 832,1770 L834,1762" stroke-width="1.5" fill="none"/>
<path d="M836.6,1754.1 L836.2,1772.4 L829.9,1771.1Z" fill="#000" stroke="none"/>
<text x="1089.8" y="1968.0" font-size="17.44" textLength="61.5" lengthAdjust="spacingAndGlyphs">4’  CONC.</text>
<text x="1100.0" y="1987.0" font-size="17.44" textLength="40.0" lengthAdjust="spacingAndGlyphs">WALK</text>
<text transform="translate(556.0 1852.0) rotate(45.3)" x="0" y="0" font-size="17.44" textLength="112.0" lengthAdjust="spacingAndGlyphs">4’  CONC.  WALK</text>
<text transform="translate(530.5 1902.0) rotate(45.6)" x="0" y="0" font-size="15.99" textLength="37.0" lengthAdjust="spacingAndGlyphs">CURB</text>
<text x="967.8" y="1811.3" font-size="17.01" textLength="33.4" lengthAdjust="spacingAndGlyphs">16.3’</text>
<text x="963.6" y="1827.5" font-size="17.01" textLength="41.8" lengthAdjust="spacingAndGlyphs">CONC.</text>
<text x="964.5" y="1846.7" font-size="17.01" textLength="39.2" lengthAdjust="spacingAndGlyphs">DRIVE</text>
<text transform="translate(917.7 1842.2) rotate(-90)" x="0" y="0" font-size="16.72" textLength="31.7" lengthAdjust="spacingAndGlyphs">5.2%</text>
<text transform="translate(938.6 1848.0) rotate(-90)" x="0" y="0" font-size="16.72" textLength="43.4" lengthAdjust="spacingAndGlyphs">SLOPE</text>
<line x1="922.4" y1="1804.6" x2="922.4" y2="1872.3" stroke-width="1.6"/>
<path d="M922.4,1872.3 L912.7,1853 L922.4,1853" stroke-width="1.6" fill="none"/>
<text transform="translate(1032.2 1840.5) rotate(-90)" x="0" y="0" font-size="16.72" textLength="31.7" lengthAdjust="spacingAndGlyphs">3.7%</text>
<text transform="translate(1054.2 1847.2) rotate(-90)" x="0" y="0" font-size="16.72" textLength="44.2" lengthAdjust="spacingAndGlyphs">SLOPE</text>
<line x1="1037.2" y1="1803.0" x2="1037.2" y2="1870.6" stroke-width="1.6"/>
<path d="M1037.2,1870.6 L1028,1852 L1037.2,1852" stroke-width="1.6" fill="none"/>
<line x1="1086.0" y1="1506.0" x2="1086.0" y2="1711.0" stroke-width="1.6"/>
<line x1="1077.4" y1="1736.0" x2="1077.4" y2="1812.0" stroke-width="1.6"/>
<line x1="1077.4" y1="1866.0" x2="1077.4" y2="1950.0" stroke-width="1.6"/>
<path d="M1077.4,1736.0 L1080.7,1756.0 L1074.2,1756.0Z" fill="#000" stroke="none"/>
<path d="M1077.4,1949.5 L1074.2,1929.5 L1080.7,1929.5Z" fill="#000" stroke="none"/>
<text transform="translate(1084.0 1863.4) rotate(-90)" x="0" y="0" font-size="17.73" textLength="48.7" lengthAdjust="spacingAndGlyphs">21.7’</text>
<text x="1203.6" y="1754.8" font-size="17.44" textLength="36.7" lengthAdjust="spacingAndGlyphs">CATV</text>
<text x="1186.0" y="1772.8" font-size="17.44" textLength="71.0" lengthAdjust="spacingAndGlyphs">PEDESTAL</text>
<circle cx="1133.6" cy="1760.4" r="6.5" fill="none" stroke-width="2"/>
<path d="M1197,1748 H1190 C1170,1748 1158,1753 1146,1757" stroke-width="1.5" fill="none"/>
<path d="M1140.0,1758.6 L1154.9,1751.9 L1156.3,1757.8Z" fill="#000" stroke="none"/>
<text x="1190.5" y="1811.0" font-size="17.44" textLength="49.8" lengthAdjust="spacingAndGlyphs">A.T.&amp;T.</text>
<text x="1201.7" y="1828.6" font-size="17.44" textLength="27.3" lengthAdjust="spacingAndGlyphs">BOX</text>
<rect x="1127" y="1798.6" width="10.5" height="9.5" fill="none" stroke-width="1.8"/>
<line x1="1189.0" y1="1803.5" x2="1150.0" y2="1803.5" stroke-width="1.5"/>
<path d="M1139.0,1803.5 L1155.0,1800.5 L1155.0,1806.5Z" fill="#000" stroke="none"/>
<text x="1191.6" y="1847.7" font-size="17.44" textLength="37.4" lengthAdjust="spacingAndGlyphs">ELEC.</text>
<text x="1201.7" y="1865.3" font-size="17.44" textLength="27.3" lengthAdjust="spacingAndGlyphs">BOX</text>
<rect x="1127" y="1848.4" width="13.5" height="9.5" fill="none" stroke-width="1.8" transform="rotate(-10 1133.7 1853)"/>
<path d="M1190,1843 H1183 L1150,1849" stroke-width="1.5" fill="none"/>
<path d="M1141.0,1851.0 L1156.2,1845.2 L1157.3,1851.1Z" fill="#000" stroke="none"/>
<text x="1177.8" y="1884.2" font-size="14.97" textLength="51.2" lengthAdjust="spacingAndGlyphs">606.23</text>
<path d="M1126.9,1892.6 L1126.9,1914 L1157.9,1892.6 L1157.9,1914 Z" stroke-width="2" fill="none"/>
<path d="M1166.5,1892.6 L1166.5,1914 L1197.5,1892.6 L1197.5,1914 Z" stroke-width="2" fill="none"/>
<text x="1131.7" y="1931.5" font-size="15.26" textLength="28.1" lengthAdjust="spacingAndGlyphs" font-weight="bold">WM.</text>
<text x="1203.6" y="1909.0" font-size="15.26" textLength="29.2" lengthAdjust="spacingAndGlyphs" font-weight="bold">WM.</text>
<text x="1395.0" y="1762.3" font-size="18.17" textLength="93.0" lengthAdjust="spacingAndGlyphs">10’  BUILDING</text>
<text x="1390.0" y="1781.0" font-size="18.17" textLength="102.0" lengthAdjust="spacingAndGlyphs">SETBACK  LINE</text>
<path d="M1390,1758.6 H1380 C1368,1760 1360,1775 1350,1784" stroke-width="1.5" fill="none"/>
<path d="M1344.0,1789.3 L1355.5,1775.1 L1359.8,1780.0Z" fill="#000" stroke="none"/>
<text x="1390.0" y="1832.7" font-size="18.17" textLength="160.0" lengthAdjust="spacingAndGlyphs">10’  ELEC.,  GAS,  TELE.</text>
<text x="1397.5" y="1852.0" font-size="18.17" textLength="140.5" lengthAdjust="spacingAndGlyphs">&amp;  CATV  EASEMENT</text>
<path d="M1386.3,1827.8 H1374 C1362,1828 1357,1818 1352,1805" stroke-width="1.5" fill="none"/>
<path d="M1345.0,1792.5 L1356.8,1806.4 L1351.2,1809.7Z" fill="#000" stroke="none"/>
<path d="M1374,1827.8 C1362,1830 1357,1850 1350,1875" stroke-width="1.5" fill="none"/>
<path d="M1345.5,1888.5 L1348.1,1870.4 L1354.3,1872.5Z" fill="#000" stroke="none"/>
<g>
<line x1="55.0" y1="2152.7" x2="415.7" y2="2152.7" stroke-width="1.8"/>
<line x1="415.7" y1="2152.7" x2="415.7" y2="2742.0" stroke-width="1.8"/>
<line x1="55.0" y1="2183.5" x2="415.7" y2="2183.5" stroke-width="1.8"/>
<line x1="49" y1="2214.8" x2="415.7" y2="2214.8" stroke="#777" stroke-width="2"/>
<line x1="49" y1="2246.0" x2="415.7" y2="2246.0" stroke="#777" stroke-width="2"/>
<line x1="49" y1="2277.3" x2="415.7" y2="2277.3" stroke="#777" stroke-width="2"/>
<line x1="49" y1="2308.5" x2="415.7" y2="2308.5" stroke="#777" stroke-width="2"/>
<line x1="49" y1="2339.8" x2="415.7" y2="2339.8" stroke="#777" stroke-width="2"/>
<line x1="49" y1="2371.1" x2="415.7" y2="2371.1" stroke="#777" stroke-width="2"/>
<line x1="49" y1="2402.3" x2="415.7" y2="2402.3" stroke="#777" stroke-width="2"/>
<line x1="49" y1="2433.6" x2="415.7" y2="2433.6" stroke="#777" stroke-width="2"/>
<line x1="49" y1="2464.8" x2="415.7" y2="2464.8" stroke="#777" stroke-width="2"/>
<line x1="49" y1="2496.1" x2="415.7" y2="2496.1" stroke="#777" stroke-width="2"/>
<line x1="49" y1="2527.4" x2="415.7" y2="2527.4" stroke="#777" stroke-width="2"/>
<line x1="49" y1="2558.6" x2="415.7" y2="2558.6" stroke="#777" stroke-width="2"/>
<line x1="49" y1="2589.9" x2="415.7" y2="2589.9" stroke="#777" stroke-width="2"/>
<line x1="49" y1="2621.1" x2="415.7" y2="2621.1" stroke="#777" stroke-width="2"/>
<line x1="49" y1="2652.4" x2="415.7" y2="2652.4" stroke="#777" stroke-width="2"/>
<line x1="49" y1="2683.7" x2="415.7" y2="2683.7" stroke="#777" stroke-width="2"/>
<line x1="49" y1="2714.9" x2="415.7" y2="2714.9" stroke="#777" stroke-width="2"/>
<line x1="284.7" y1="2183.5" x2="284.7" y2="2750" stroke="#777" stroke-width="2"/>
</g>
<text x="179.0" y="2175.5" font-size="27" textLength="18.7" lengthAdjust="spacingAndGlyphs" font-weight="bold" style="fill:#fff;stroke:#000;stroke-width:1.2">A</text>
<text x="205.6" y="2175.5" font-size="27" textLength="14.4" lengthAdjust="spacingAndGlyphs" font-weight="bold" style="fill:#fff;stroke:#000;stroke-width:1.2">R</text>
<text x="228.1" y="2175.5" font-size="27" textLength="11.7" lengthAdjust="spacingAndGlyphs" font-weight="bold" style="fill:#fff;stroke:#000;stroke-width:1.2">E</text>
<text x="246.8" y="2175.5" font-size="27" textLength="18.7" lengthAdjust="spacingAndGlyphs" font-weight="bold" style="fill:#fff;stroke:#000;stroke-width:1.2">A</text>
<text x="273.0" y="2175.5" font-size="27" textLength="11.2" lengthAdjust="spacingAndGlyphs" font-weight="bold" style="fill:#fff;stroke:#000;stroke-width:1.2">S</text>
<text x="64.6" y="2208.3" font-size="26.45" textLength="95.2" lengthAdjust="spacingAndGlyphs">DRIVEWAY</text>
<text x="305.2" y="2208.3" font-size="26.45" textLength="106.5" lengthAdjust="spacingAndGlyphs">252 SQ. FT.</text>
<text x="64.6" y="2239.6" font-size="26.45" textLength="102.0" lengthAdjust="spacingAndGlyphs">APPROACH</text>
<text x="305.2" y="2239.6" font-size="26.45" textLength="106.5" lengthAdjust="spacingAndGlyphs">201 SQ. FT.</text>
<text x="64.6" y="2270.8" font-size="26.45" textLength="108.0" lengthAdjust="spacingAndGlyphs">LEAD WALK</text>
<text x="306.2" y="2270.8" font-size="26.45" textLength="105.5" lengthAdjust="spacingAndGlyphs">102 SQ. FT.</text>
<text x="64.6" y="2302.1" font-size="26.45" textLength="128.0" lengthAdjust="spacingAndGlyphs">PUBLIC WALK</text>
<text x="305.2" y="2302.1" font-size="26.45" textLength="106.5" lengthAdjust="spacingAndGlyphs">818 SQ. FT.</text>
<text x="64.6" y="2333.3" font-size="26.45" textLength="53.0" lengthAdjust="spacingAndGlyphs">PATIO</text>
<text x="380.7" y="2333.3" font-size="26.45" textLength="31.0" lengthAdjust="spacingAndGlyphs">N/A</text>
<text x="64.6" y="2364.6" font-size="26.45" textLength="108.0" lengthAdjust="spacingAndGlyphs">HVAC PADS</text>
<text x="318.7" y="2364.6" font-size="26.45" textLength="93.0" lengthAdjust="spacingAndGlyphs">16 SQ. FT.</text>
<text x="64.6" y="2395.9" font-size="26.45" textLength="58.0" lengthAdjust="spacingAndGlyphs">TOTAL</text>
<text x="288.7" y="2395.9" font-size="26.45" textLength="123.0" lengthAdjust="spacingAndGlyphs">1,389 SQ. FT.</text>
<text x="64.6" y="2458.4" font-size="26.45" textLength="108.0" lengthAdjust="spacingAndGlyphs">FRONT SOD</text>
<text x="305.2" y="2458.4" font-size="26.45" textLength="106.5" lengthAdjust="spacingAndGlyphs">322SQ. YD.</text>
<text x="64.6" y="2489.6" font-size="26.45" textLength="95.0" lengthAdjust="spacingAndGlyphs">REAR SOD</text>
<text x="305.2" y="2489.6" font-size="26.45" textLength="106.5" lengthAdjust="spacingAndGlyphs">211SQ. YD.</text>
<text x="64.6" y="2552.2" font-size="26.45" textLength="125.0" lengthAdjust="spacingAndGlyphs">TOTAL FENCE</text>
<text x="306.2" y="2552.2" font-size="26.45" textLength="105.5" lengthAdjust="spacingAndGlyphs">164 LN. FT.</text>
<text x="64.6" y="2614.7" font-size="26.45" textLength="192.0" lengthAdjust="spacingAndGlyphs">AVERAGE EXPOSURE</text>
<text x="383.7" y="2614.7" font-size="26.45" textLength="28.0" lengthAdjust="spacingAndGlyphs">40"</text>
<text x="64.6" y="2645.9" font-size="26.45" textLength="122.0" lengthAdjust="spacingAndGlyphs">DRIVE SLOPE</text>
<text x="366.7" y="2645.9" font-size="26.45" textLength="45.0" lengthAdjust="spacingAndGlyphs">4.2%</text>
<text x="64.6" y="2677.2" font-size="26.45" textLength="102.0" lengthAdjust="spacingAndGlyphs">SLAB AREA</text>
<text x="288.7" y="2677.2" font-size="26.45" textLength="123.0" lengthAdjust="spacingAndGlyphs">2,265 SQ. FT.</text>
<text x="64.6" y="2708.5" font-size="26.45" textLength="89.0" lengthAdjust="spacingAndGlyphs">LOT AREA</text>
<text x="288.7" y="2708.5" font-size="26.45" textLength="123.0" lengthAdjust="spacingAndGlyphs">6,827 SQ. FT.</text>
<text x="670.3" y="2451.8" font-size="25.80" textLength="192.9" lengthAdjust="spacingAndGlyphs" font-style="italic" style='font-family:"Liberation Mono", monospace;stroke:#000;stroke-width:0.7;'>SITE PLAN OF</text>
<text x="653.5" y="2478.0" font-size="25.80" textLength="225.4" lengthAdjust="spacingAndGlyphs" font-style="italic" style='font-family:"Liberation Mono", monospace;stroke:#000;stroke-width:0.7;'>1539 ELVIN SMT</text>
<text x="660.2" y="2505.4" font-size="25.80" textLength="216.1" lengthAdjust="spacingAndGlyphs" font-style="italic" style='font-family:"Liberation Mono", monospace;stroke:#000;stroke-width:0.7;'>LOT 1, BLOCK 1</text>
<text x="605.6" y="2531.6" font-size="25.80" textLength="324.9" lengthAdjust="spacingAndGlyphs" font-style="italic" style='font-family:"Liberation Mono", monospace;stroke:#000;stroke-width:0.7;'>NEW CITY BLOCK 14495</text>
<text x="529.2" y="2562.3" font-size="31.26" textLength="476.2" lengthAdjust="spacingAndGlyphs" font-style="italic" style='font-family:"Liberation Mono", monospace;stroke:#000;stroke-width:0.3;'>TIMMS SUBDIVISION UNIT 2</text>
<text x="616.0" y="2590.3" font-size="25.80" textLength="302.6" lengthAdjust="spacingAndGlyphs" font-style="italic" style='font-family:"Liberation Mono", monospace;stroke:#000;stroke-width:0.7;'>CITY OF SAN ANTONIO</text>
<text x="612.3" y="2617.3" font-size="25.80" textLength="311.9" lengthAdjust="spacingAndGlyphs" font-style="italic" style='font-family:"Liberation Mono", monospace;stroke:#000;stroke-width:0.7;'>BEXAR COUNTY, TEXAS</text>
<text x="679.7" y="2650.3" font-size="20.35" textLength="112.3" lengthAdjust="spacingAndGlyphs">DRAWN  BY:</text>
<text x="822.7" y="2647.6" font-size="19.62" textLength="38.6" lengthAdjust="spacingAndGlyphs">D.D.</text>
<line x1="807.7" y1="2652.1" x2="868.8" y2="2652.1" stroke-width="1.8"/>
<text x="679.7" y="2673.8" font-size="20.35" textLength="134.0" lengthAdjust="spacingAndGlyphs">CHECKED  BY:</text>
<text x="837.7" y="2670.8" font-size="19.62" textLength="34.8" lengthAdjust="spacingAndGlyphs">W.J.</text>
<line x1="829.5" y1="2675.7" x2="890.5" y2="2675.7" stroke-width="1.8"/>
<text x="679.7" y="2701.5" font-size="20.35" textLength="54.3" lengthAdjust="spacingAndGlyphs">DATE:</text>
<text x="756.5" y="2699.0" font-size="20.35" textLength="114.9" lengthAdjust="spacingAndGlyphs">9/24/2025</text>
<line x1="750.0" y1="2703.4" x2="895.7" y2="2703.4" stroke-width="1.8"/>
<text x="1367.3" y="2574.0" font-size="31.10" textLength="224.6" lengthAdjust="spacingAndGlyphs" style='stroke:#fff;stroke-width:0.80;'>SINCLAIR  LAND</text>
<text x="1356.6" y="2603.1" font-size="31.10" textLength="243.8" lengthAdjust="spacingAndGlyphs" style='stroke:#fff;stroke-width:0.80;'>SURVEYING,  INC.</text>
<text x="1384.4" y="2638.2" font-size="22.97" textLength="189.1" lengthAdjust="spacingAndGlyphs">3411  MAGIC  DRIVE</text>
<text x="1335.2" y="2659.6" font-size="22.97" textLength="286.6" lengthAdjust="spacingAndGlyphs">SAN  ANTONIO,  TEXAS  78229</text>
<text x="1398.5" y="2681.8" font-size="22.97" textLength="159.1" lengthAdjust="spacingAndGlyphs">210–341–4518</text>
<text x="1339.5" y="2700.2" font-size="22.97" textLength="278.9" lengthAdjust="spacingAndGlyphs">TBPELS  FIRM  NO.10089000</text>
<text x="1335.2" y="2728.9" font-size="22.97" textLength="299.5" lengthAdjust="spacingAndGlyphs">JOB  NUMBER:   S–202583586</text>
<line x1="1204" y1="2472" x2="1204" y2="2744" stroke="#231F20" stroke-width="9.5" stroke-linecap="round"/>
<path d="M1124.80,2687.70 A112,112 0 1 1 1283.20,2687.70 L1266.23,2670.73 A88,88 0 1 0 1141.77,2670.73 Z" fill="#D2572E" stroke="none"/>
<path d="M1269.83,2699.11 A112,112 0 0 1 1138.17,2699.11 L1152.27,2679.69 A88,88 0 0 0 1255.73,2679.69 Z" fill="#231F20" stroke="none"/>
<circle cx="1204" cy="2608.5" r="63" fill="none" stroke="#231F20" stroke-width="17.5"/>
<path d="M1185.5,2562.5 L1217.6,2562.5 L1232.4,2577.3 L1232.4,2589.6 L1216.5,2589.6 L1216.5,2580.0 L1192.7,2580.0 L1192.7,2594.5 L1197.2,2599.0 L1223.0,2599.0 L1233.3,2609.4 L1233.3,2642.6 L1222.5,2653.5 L1185.5,2653.5 L1174.7,2642.6 L1174.7,2626.0 L1191.3,2626.0 L1191.3,2636.0 L1215.8,2636.0 L1215.8,2618.8 L1187.3,2618.8 L1174.7,2606.2 L1174.7,2573.3 Z" fill="#D2572E" stroke="#231F20" stroke-width="0.8"/>
<line x1="1204" y1="2563" x2="1204" y2="2580" stroke="#231F20" stroke-width="3"/>
<line x1="1062.2" y1="2613.2" x2="1644.0" y2="2613.2" stroke-width="4.8"/>
<text transform="translate(870.5 719.5) rotate(-58.7)" x="0" y="0" font-size="14.24" textLength="49.5" lengthAdjust="spacingAndGlyphs">601.64</text>
<path d="M875.1,668.1 H885.1 M880.1,663.1 V673.1" stroke-width="1.4" fill="none" transform="rotate(31.3 880.1 668.1)"/>
<text transform="translate(1128.3 693.7) rotate(-60.3)" x="0" y="0" font-size="14.24" textLength="49.8" lengthAdjust="spacingAndGlyphs">600.91</text>
<text transform="translate(624.6 935.9) rotate(-59.9)" x="0" y="0" font-size="14.24" textLength="51.1" lengthAdjust="spacingAndGlyphs">602.86</text>
<path d="M599.8,919.7 H609.8 M604.8,914.7 V924.7" stroke-width="1.4" fill="none" transform="rotate(30.1 604.8 919.7)"/>
<text transform="translate(1174.2 941.1) rotate(-58.9)" x="0" y="0" font-size="14.24" textLength="50.5" lengthAdjust="spacingAndGlyphs">602.29</text>
<text transform="translate(629.8 1351.7) rotate(-58.3)" x="0" y="0" font-size="14.24" textLength="50.7" lengthAdjust="spacingAndGlyphs">603.58</text>
<path d="M610,1346.6 H620 M615,1341.6 V1351.6" stroke-width="1.4" fill="none" transform="rotate(31.7 615 1346.6)"/>
<text transform="translate(874.7 1386.0) rotate(-59.0)" x="0" y="0" font-size="14.24" textLength="51.7" lengthAdjust="spacingAndGlyphs">604.03</text>
<path d="M898.7,1330.6 H908.7 M903.7,1325.6 V1335.6" stroke-width="1.4" fill="none" transform="rotate(31.0 903.7 1330.6)"/>
<text transform="translate(1129.5 1319.1) rotate(-60.3)" x="0" y="0" font-size="14.24" textLength="51.0" lengthAdjust="spacingAndGlyphs">604.02</text>
<path d="M1117.9,1327.3 H1127.9 M1122.9,1322.3 V1332.3" stroke-width="1.4" fill="none" transform="rotate(29.7 1122.9 1327.3)"/>
<text transform="translate(891.9 939.0) rotate(-62.0)" x="0" y="0" font-size="14.24" textLength="51.0" lengthAdjust="spacingAndGlyphs">602.50</text>
<path d="M881.2,906 H891.2 M886.2,901 V911" stroke-width="1.4" fill="none" transform="rotate(28.0 886.2 906)"/>
<text transform="translate(900.3 1720.6) rotate(-56.3)" x="0" y="0" font-size="14.24" textLength="50.0" lengthAdjust="spacingAndGlyphs">605.53</text>
<path d="M915.2,1711.9 H925.2 M920.2,1706.9 V1716.9" stroke-width="1.4" fill="none" transform="rotate(33.7 920.2 1711.9)"/>
<text transform="translate(1174.5 1729.2) rotate(-54.2)" x="0" y="0" font-size="14.24" textLength="49.2" lengthAdjust="spacingAndGlyphs">606.01</text>
<path d="M1141,1723 H1151 M1146,1718 V1728" stroke-width="1.4" fill="none" transform="rotate(35.8 1146 1723)"/>
<text transform="translate(635.5 1740.6) rotate(-59.3)" x="0" y="0" font-size="14.24" textLength="48.5" lengthAdjust="spacingAndGlyphs">603.85</text>
<text transform="translate(764.6 1944.1) rotate(-57.7)" x="0" y="0" font-size="14.24" textLength="49.7" lengthAdjust="spacingAndGlyphs">605.15</text>
<text x="936.4" y="1909.4" font-size="15.26" textLength="73.2" lengthAdjust="spacingAndGlyphs">+605.96</text>
<text transform="translate(863.0 946.0) rotate(-90)" x="0" y="0" font-size="15.99" textLength="25.0" lengthAdjust="spacingAndGlyphs">3½”</text>
<text transform="translate(815.5 1417.4) rotate(-90)" x="0" y="0" font-size="15.99" textLength="25.4" lengthAdjust="spacingAndGlyphs">3½”</text>
<text transform="translate(910.5 1554.5) rotate(-90)" x="0" y="0" font-size="15.99" textLength="26.5" lengthAdjust="spacingAndGlyphs">3½”</text>
<text transform="translate(922.0 886.0) rotate(-90)" x="0" y="0" font-size="15.99" textLength="15.3" lengthAdjust="spacingAndGlyphs">2”</text>
<text transform="translate(808.5 1459.5) rotate(-90)" x="0" y="0" font-size="15.99" textLength="14.5" lengthAdjust="spacingAndGlyphs">2”</text>
<text transform="translate(987.7 1608.7) rotate(-90)" x="0" y="0" font-size="15.99" textLength="13.7" lengthAdjust="spacingAndGlyphs">2”</text>
<line x1="859.6" y1="930.0" x2="859.6" y2="968.4" stroke-width="1.5"/>
<line x1="813.3" y1="1370.5" x2="813.3" y2="1397.0" stroke-width="1.5"/>
<line x1="906.7" y1="1507.6" x2="906.7" y2="1545.0" stroke-width="1.5"/>
</g>
</svg></body></html>
